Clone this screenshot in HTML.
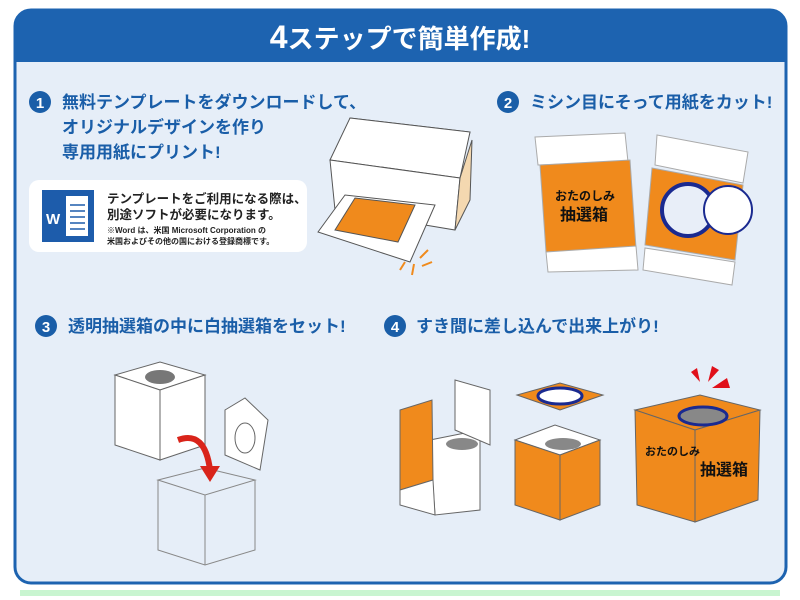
<!DOCTYPE html>
<html><head><meta charset="utf-8"><style>
body{margin:0;width:800px;height:600px;background:#fff;overflow:hidden}
svg{display:block}
text{font-family:"Liberation Sans","Noto Sans CJK JP",sans-serif;font-weight:bold}
</style></head><body>
<svg width="800" height="600" viewBox="0 0 800 600">
<rect x="15" y="10" width="771" height="573" rx="16" fill="#e6eef8" stroke="#1d63b0" stroke-width="3"/>
<path d="M15 26 Q15 10 31 10 H770 Q786 10 786 26 V62 H15 Z" fill="#1d63b0"/>
<text x="400" y="48" text-anchor="middle" font-size="26" fill="#fff"><tspan font-size="32">4</tspan>ステップで簡単作成!</text>
<rect x="20" y="590" width="760" height="6" fill="#c8f5d0"/>

<g fill="#1a5ea8" font-size="17">
<circle cx="40" cy="102" r="11"/><text x="40" y="108" font-size="15" fill="#fff" text-anchor="middle">1</text>
<text x="62" y="108">無料テンプレートをダウンロードして、</text>
<text x="62" y="133">オリジナルデザインを作り</text>
<text x="62" y="158">専用用紙にプリント!</text>
<circle cx="508" cy="102" r="11"/><text x="508" y="108" font-size="15" fill="#fff" text-anchor="middle">2</text>
<text x="530" y="108">ミシン目にそって用紙をカット!</text>
<circle cx="46" cy="326" r="11"/><text x="46" y="332" font-size="15" fill="#fff" text-anchor="middle">3</text>
<text x="68" y="332">透明抽選箱の中に白抽選箱をセット!</text>
<circle cx="395" cy="326" r="11"/><text x="395" y="332" font-size="15" fill="#fff" text-anchor="middle">4</text>
<text x="416" y="332">すき間に差し込んで出来上がり!</text>
</g>

<rect x="29" y="180" width="278" height="72" rx="10" fill="#fff"/>
<rect x="42" y="190" width="52" height="52" fill="#1d5cab"/>
<rect x="66" y="196" width="22" height="40" fill="#fff"/>
<g stroke="#1d5cab" stroke-width="1.5"><line x1="70" y1="205" x2="85" y2="205"/><line x1="70" y1="211" x2="85" y2="211"/><line x1="70" y1="217" x2="85" y2="217"/><line x1="70" y1="223" x2="85" y2="223"/><line x1="70" y1="229" x2="85" y2="229"/></g>
<text x="46" y="224" font-size="15" fill="#fff">W</text>
<g fill="#222"><text x="107" y="203" font-size="12.5">テンプレートをご利用になる際は、</text>
<text x="107" y="219" font-size="12.5">別途ソフトが必要になります。</text>
<text x="107" y="233" font-size="8" font-weight="normal">※Word は、米国 Microsoft Corporation の</text>
<text x="107" y="244" font-size="8" font-weight="normal">米国およびその他の国における登録商標です。</text></g>

<!-- printer -->
<g stroke="#555" stroke-width="1">
<path d="M350 118 L470 132 L465 150 L345 135 Z" fill="#f4d8b0"/>
<path d="M330 160 L350 118 L470 132 L460 178 Z" fill="#fff"/>
<path d="M330 160 L460 178 L455 230 L335 210 Z" fill="#fff"/>
<path d="M460 178 L472 140 L470 200 L455 230 Z" fill="#f4d8b0"/>
<path d="M318 232 L345 195 L435 205 L410 262 Z" fill="#fff"/>
<path d="M335 230 L355 198 L415 205 L398 242 Z" fill="#f08a1c"/>
</g>
<g stroke="#f08a1c" stroke-width="2"><line x1="400" y1="270" x2="405" y2="262"/><line x1="412" y1="275" x2="414" y2="264"/><line x1="420" y1="258" x2="428" y2="250"/><line x1="422" y1="266" x2="432" y2="262"/></g>

<!-- step 2 sheets -->
<g stroke="#aaa">
<path d="M535 137 L625 133 L628 162 L538 165 Z" fill="#fff"/>
<path d="M540 165 L630 160 L636 248 L546 252 Z" fill="#f08a1c"/>
<path d="M546 252 L636 246 L638 270 L548 272 Z" fill="#fff"/>
<path d="M657 135 L748 152 L743 183 L655 165 Z" fill="#fff"/>
<path d="M652 168 L743 185 L735 260 L645 245 Z" fill="#f08a1c"/>
<path d="M645 248 L735 262 L732 285 L643 270 Z" fill="#fff"/>
</g>
<text x="555" y="200" font-size="12" fill="#111">おたのしみ</text>
<text x="560" y="220" font-size="16" fill="#111">抽選箱</text>
<circle cx="688" cy="210" r="26" fill="#e8eef8" stroke="#1a2a90" stroke-width="4"/>
<circle cx="728" cy="210" r="24" fill="#fff" stroke="#1a2a90" stroke-width="2"/>

<!-- step 3 -->
<g stroke="#666" fill="#fff">
<path d="M115 375 L160 362 L205 375 L160 390 Z"/>
<path d="M115 375 L160 390 L160 460 L115 445 Z"/>
<path d="M160 390 L205 375 L205 445 L160 460 Z"/>
<path d="M225 410 L245 398 L268 420 L260 470 L225 455 Z"/>
</g>
<ellipse cx="160" cy="377" rx="15" ry="7" fill="#777"/>
<ellipse cx="245" cy="438" rx="10" ry="15" fill="none" stroke="#666"/>
<g stroke="#888" fill="none">
<path d="M158 480 L205 468 L255 480 L205 495 Z"/>
<path d="M158 480 L158 550 L205 565 L255 550 L255 480"/><line x1="205" y1="495" x2="205" y2="565"/>
</g>
<path d="M178 440 Q205 430 210 470" stroke="#d9241a" stroke-width="6" fill="none"/>
<path d="M200 466 L220 466 L210 482 Z" fill="#d9241a"/>

<!-- step 4 boxes -->
<g stroke="#666">
<path d="M430 440 L480 430 L480 510 L435 515 Z" fill="#fff"/>
<path d="M400 410 L432 400 L433 480 L400 490 Z" fill="#f08a1c"/>
<path d="M400 490 L433 480 L435 515 L400 505 Z" fill="#fff"/>
<path d="M455 380 L490 390 L490 445 L455 430 Z" fill="#fff"/>
<path d="M515 440 L555 425 L600 440 L560 455 Z" fill="#fff"/>
<path d="M515 440 L560 455 L560 520 L515 505 Z" fill="#f08a1c"/>
<path d="M560 455 L600 440 L600 505 L560 520 Z" fill="#f08a1c"/>
<path d="M517 395 L560 383 L603 395 L560 410 Z" fill="#f08a1c"/>
<path d="M635 410 L700 395 L760 410 L695 430 Z" fill="#f08a1c"/>
<path d="M635 410 L695 430 L695 522 L637 505 Z" fill="#f08a1c"/>
<path d="M695 430 L760 410 L758 500 L695 522 Z" fill="#f08a1c"/>
</g>
<ellipse cx="560" cy="396" rx="22" ry="8" fill="#fff" stroke="#1a2a90" stroke-width="3"/>
<ellipse cx="563" cy="444" rx="18" ry="6" fill="#888"/>
<ellipse cx="462" cy="444" rx="16" ry="6" fill="#888"/>
<ellipse cx="703" cy="416" rx="24" ry="9" fill="#888" stroke="#1a2a90" stroke-width="3"/>
<path d="M691 372 L700 382 L697 368 Z M712 366 L708 382 L719 370 Z M727 378 L712 388 L730 388 Z" fill="#e0101a"/>
<text x="645" y="455" font-size="11" fill="#111">おたのしみ</text>
<text x="700" y="475" font-size="16" fill="#111">抽選箱</text>
</svg>
</body></html>
